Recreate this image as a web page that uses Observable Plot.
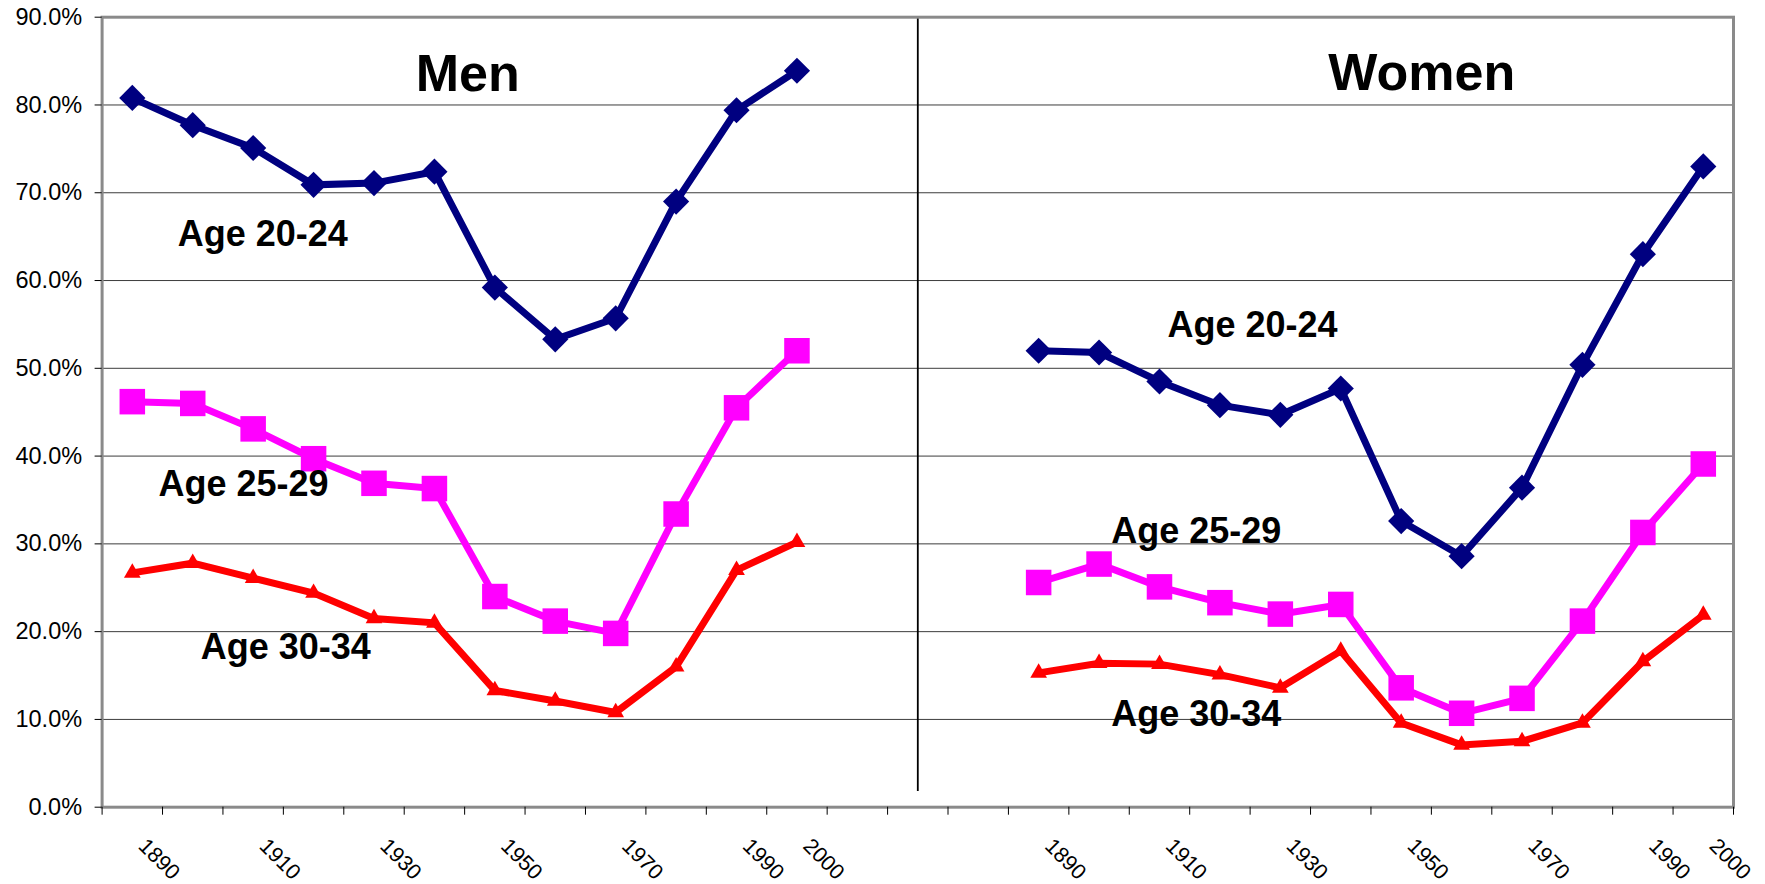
<!DOCTYPE html>
<html>
<head>
<meta charset="utf-8">
<script src="https://cdn.jsdelivr.net/npm/d3@7"></script>
<script src="https://cdn.jsdelivr.net/npm/@observablehq/plot@0.6"></script>
<style>
  html, body { margin: 0; padding: 0; background: #fff; }
  #chart svg { display: block; }
</style>
</head>
<body>
<div id="chart"></div>
<script>
// Birth cohorts shown in each panel
const years = [1890, 1900, 1910, 1920, 1930, 1940, 1950, 1960, 1970, 1980, 1990, 2000];

// Share (%) by age group
const men20to24 = [80.8, 77.7, 75.1, 70.9, 71.1, 72.4, 59.2, 53.3, 55.7, 69.0, 79.4, 83.9];
const men25to29 = [46.2, 46.0, 43.1, 39.7, 36.9, 36.3, 24.0, 21.2, 19.8, 33.4, 45.5, 52.0];
const men30to34 = [26.7, 27.8, 26.1, 24.4, 21.5, 21.0, 13.3, 12.1, 10.8, 16.0, 27.0, 30.2];

const women20to24 = [52.0, 51.8, 48.5, 45.8, 44.7, 47.7, 32.6, 28.6, 36.4, 50.4, 63.0, 73.0];
const women25to29 = [25.6, 27.7, 25.1, 23.3, 22.0, 23.1, 13.6, 10.7, 12.4, 21.2, 31.3, 39.1];
const women30to34 = [15.3, 16.4, 16.3, 15.1, 13.6, 17.8, 9.6, 7.1, 7.5, 9.6, 16.6, 21.9];

const ageGroups = ["Age 20-24", "Age 25-29", "Age 30-34"];
const panels = ["Men", "Women"];

// Category labels printed under the axis
const tickLabelYears = [1890, 1910, 1930, 1950, 1970, 1990, 2000];
const yTicks = [0, 10, 20, 30, 40, 50, 60, 70, 80, 90];

// Empty category slots between the two panels
const panelGap = 3;
const slotCount = years.length * 2 + panelGap;
const slotOf = (panel, i) => (panel === "Men" ? i : years.length + panelGap + i);
const dividerSlot = years.length + (panelGap - 1) / 2;

const seriesTable = [
  {panel: "Men", age: "Age 20-24", values: men20to24},
  {panel: "Men", age: "Age 25-29", values: men25to29},
  {panel: "Men", age: "Age 30-34", values: men30to34},
  {panel: "Women", age: "Age 20-24", values: women20to24},
  {panel: "Women", age: "Age 25-29", values: women25to29},
  {panel: "Women", age: "Age 30-34", values: women30to34}
];

const rows = seriesTable.flatMap(s =>
  s.values.map((v, i) => ({
    panel: s.panel,
    age: s.age,
    key: s.panel + " " + s.age,
    year: years[i],
    slot: slotOf(s.panel, i),
    value: v
  }))
);

const tickLabels = panels.flatMap(p =>
  tickLabelYears.map(y => ({slot: slotOf(p, years.indexOf(y)), label: String(y)}))
);

// In-chart annotations (slot, value) for panel titles and series names
const panelTitles = [
  {text: "Men", slot: 5.55, value: 81.6},
  {text: "Women", slot: 21.34, value: 81.7}
];
const seriesNames = [
  {text: "Age 20-24", slot: 2.16, value: 63.9},
  {text: "Age 25-29", slot: 1.84, value: 35.5},
  {text: "Age 30-34", slot: 2.54, value: 16.9},
  {text: "Age 20-24", slot: 18.54, value: 53.6},
  {text: "Age 25-29", slot: 17.61, value: 30.1},
  {text: "Age 30-34", slot: 17.61, value: 9.2}
];

const colors = ["#000080", "#FF00FF", "#FF0000"];
const symbols = ["diamond2", "square", "triangle"];
const markerRadius = [11.8, 14.4, 6.2];
const FONT = "'Liberation Sans', Arial, Helvetica, sans-serif";

const dotMarks = ageGroups.map((age, k) =>
  Plot.dot(rows.filter(d => d.age === age), {
    x: "slot", y: "value", symbol: () => symbols[k], r: markerRadius[k],
    fill: colors[k], stroke: "none"
  })
);

const chart = Plot.plot({
  width: 1765,
  height: 884,
  marginLeft: 101.6,
  marginRight: 32,
  marginTop: 16.7,
  marginBottom: 77.3,
  style: {fontFamily: FONT, fontSize: "23px", color: "#000", background: "#fff", overflow: "visible"},
  x: {type: "linear", domain: [-0.5, slotCount - 0.5]},
  y: {domain: [0, 90]},
  symbol: {type: "identity"},
  color: {domain: ageGroups, range: colors},
  marks: [
    Plot.gridY(yTicks, {stroke: "#1a1a1a", strokeOpacity: 0.85, strokeWidth: 1}),
    Plot.ruleX([dividerSlot], {y1: 1.8, y2: 90, stroke: "#000", strokeWidth: 1.8}),
    Plot.line(rows, {x: "slot", y: "value", z: "key", stroke: "age", strokeWidth: 7,
      strokeLinejoin: "miter", strokeMiterlimit: 2, strokeLinecap: "butt"}),
    ...dotMarks,
    Plot.frame({stroke: "#8a8a8a", strokeWidth: 3}),
    Plot.axisY(yTicks, {
      tickSize: 7, tickPadding: 13, fontSize: 23.5, label: null,
      tickFormat: d => d.toFixed(1) + "%", stroke: "#000"
    }),
    Plot.axisX(d3.range(-0.5, slotCount, 1), {
      tickSize: 8, tickFormat: () => "", label: null, stroke: "#000"
    }),
    Plot.text(tickLabels, {
      x: "slot", text: "label", frameAnchor: "bottom", rotate: 45,
      textAnchor: "start", lineAnchor: "bottom", dx: 5, dy: 40, fontSize: 21.5, fill: "#000"
    }),
    Plot.text(panelTitles, {
      x: "slot", y: "value", text: "text", fontSize: 52, fontWeight: "bold",
      lineAnchor: "bottom", fill: "#000"
    }),
    Plot.text(seriesNames, {
      x: "slot", y: "value", text: "text", fontSize: 36, fontWeight: "bold",
      lineAnchor: "bottom", fill: "#000"
    })
  ]
});

document.getElementById("chart").appendChild(chart);
</script>
</body>
</html>
